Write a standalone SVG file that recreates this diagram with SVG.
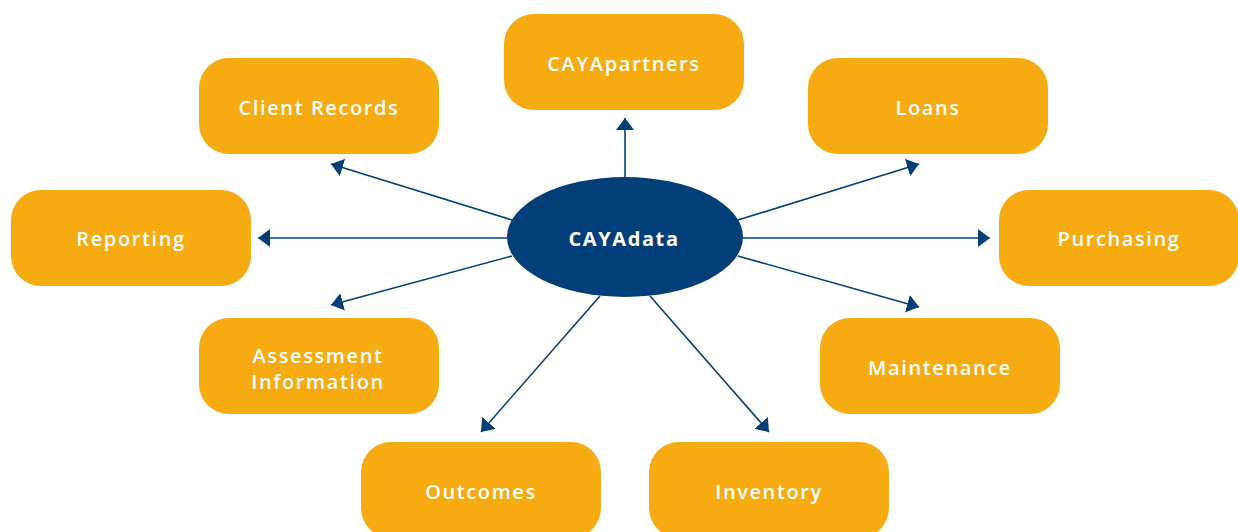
<svg xmlns="http://www.w3.org/2000/svg" width="1238" height="532" viewBox="0 0 1238 532">
  <style>
    .box { fill: #F6AB13; }
    .lbl { fill: #FFFFFF; font-family: "Open Sans", "Liberation Sans", sans-serif; font-weight: 600; font-size: 20px; letter-spacing: 1.6px; text-anchor: middle; dominant-baseline: central; }
    .hub { fill: #023F78; }
    .hublbl { fill: #FFFFFF; font-family: "Open Sans", "Liberation Sans", sans-serif; font-weight: 700; font-size: 20px; letter-spacing: 1.6px; text-anchor: middle; dominant-baseline: central; }
    .link { stroke: #023F78; stroke-width: 1.6; fill: none; marker-end: url(#head); }
  </style>
  <defs>
    <marker id="head" markerUnits="userSpaceOnUse" viewBox="0 0 12 18" markerWidth="12" markerHeight="18" refX="12" refY="9" orient="auto">
      <path d="M0,0 L12,9 L0,18 z" fill="#023F78"/>
    </marker>
  </defs>

  <rect width="1238" height="532" fill="#FFFFFF"/>

  <!-- connectors from the hub -->
  <g id="connectors">
    <line class="link" x1="625" y1="178" x2="625" y2="118"/>
    <line class="link" x1="512" y1="220" x2="331" y2="164"/>
    <line class="link" x1="507" y1="238" x2="258" y2="238"/>
    <line class="link" x1="512" y1="256" x2="331" y2="305"/>
    <line class="link" x1="738" y1="220" x2="919" y2="164"/>
    <line class="link" x1="743" y1="238" x2="990" y2="238"/>
    <line class="link" x1="738" y1="256" x2="919" y2="307"/>
    <line class="link" x1="600" y1="296" x2="481" y2="432"/>
    <line class="link" x1="650" y1="296" x2="769" y2="432"/>
  </g>

  <g id="hub">
    <ellipse class="hub" cx="625" cy="237" rx="118" ry="60"/>
    <text class="hublbl" x="624" y="238">CAYAdata</text>
  </g>

  <g id="cayapartners">
    <rect class="box" x="504" y="14" width="240" height="96" rx="30"/>
    <text class="lbl" x="624" y="63">CAYApartners</text>
  </g>
  <g id="client-records">
    <rect class="box" x="199" y="58" width="240" height="96" rx="30"/>
    <text class="lbl" x="319" y="107">Client Records</text>
  </g>
  <g id="loans">
    <rect class="box" x="808" y="58" width="240" height="96" rx="30"/>
    <text class="lbl" x="928" y="107">Loans</text>
  </g>
  <g id="reporting">
    <rect class="box" x="11" y="190" width="240" height="96" rx="30"/>
    <text class="lbl" x="131" y="238">Reporting</text>
  </g>
  <g id="purchasing">
    <rect class="box" x="999" y="190" width="240" height="96" rx="30"/>
    <text class="lbl" x="1119" y="238">Purchasing</text>
  </g>
  <g id="assessment-information">
    <rect class="box" x="199" y="318" width="240" height="96" rx="30"/>
    <text class="lbl" x="318" y="355">Assessment</text>
    <text class="lbl" x="318" y="381">Information</text>
  </g>
  <g id="maintenance">
    <rect class="box" x="820" y="318" width="240" height="96" rx="30"/>
    <text class="lbl" x="940" y="367">Maintenance</text>
  </g>
  <g id="outcomes">
    <rect class="box" x="361" y="442" width="240" height="96" rx="30"/>
    <text class="lbl" x="481" y="491">Outcomes</text>
  </g>
  <g id="inventory">
    <rect class="box" x="649" y="442" width="240" height="96" rx="30"/>
    <text class="lbl" x="769" y="491">Inventory</text>
  </g>
</svg>
